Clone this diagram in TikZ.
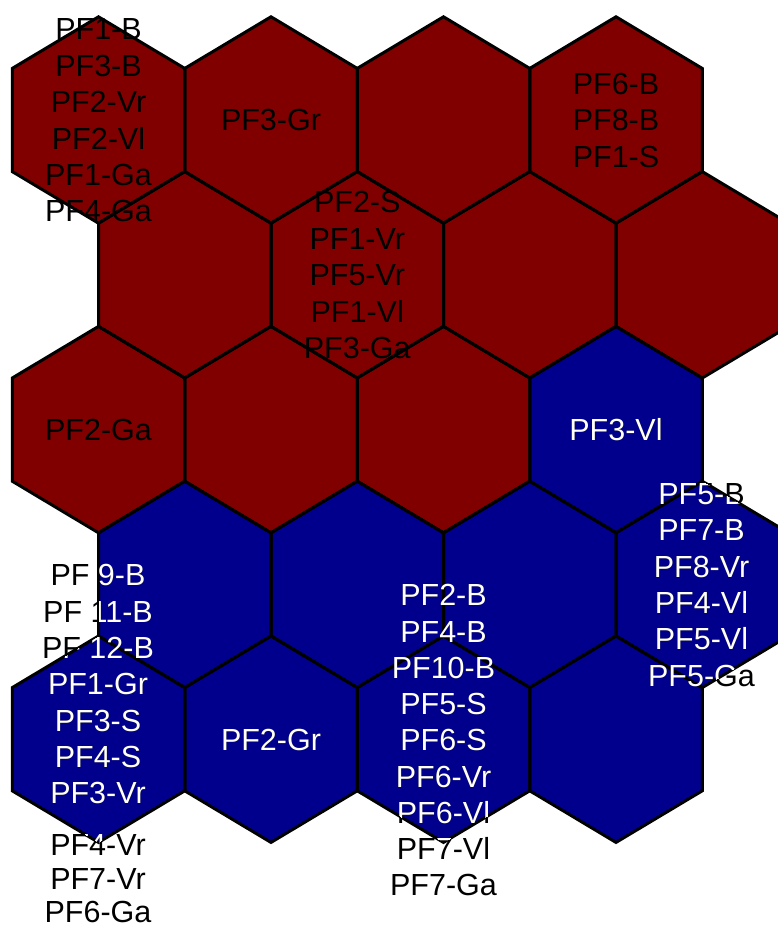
\documentclass[tikz,border=0pt]{standalone}
\usepackage{fontspec}
\setmainfont{Liberation Sans}
\definecolor{somred}{RGB}{128,0,0}
\definecolor{somblue}{RGB}{0,0,140}
\tikzset{
  lab/.style={font=\fontsize{30.5}{36}\selectfont, inner sep=0pt, anchor=base, text depth=0pt},
  hexborder/.style={draw=black, line width=3pt, line join=miter}
}
\newcommand\hexpath[2]{(#1,#2-103.2) -- (#1+86.25,#2-51.6) -- (#1+86.25,#2+51.6) -- (#1,#2+103.2) -- (#1-86.25,#2+51.6) -- (#1-86.25,#2-51.6) -- cycle}
\newcommand\somblock[6]{% prefix, colour, x, first y, spacing, list
  \foreach \t [count=\i] in {#6}
    \node[lab,text=#2] (#1\i) at (#3,{#4+#5*(\i-1)+10.9}) {\t};
}
\newcommand\somlabels[2]{%
  \somblock{#1a}{#2}{98.5}{29}{36.4}{PF1-B,PF3-B,PF2-Vr,PF2-Vl,PF1-Ga,PF4-Ga}
  \somblock{#1b}{#2}{271}{120}{36.4}{PF3-Gr}
  \somblock{#1c}{#2}{616}{83.6}{36.4}{PF6-B,PF8-B,PF1-S}
  \somblock{#1d}{#2}{357.25}{202}{36.4}{PF2-S,PF1-Vr,PF5-Vr,PF1-Vl,PF3-Ga}
  \somblock{#1e}{#2}{98.5}{429.6}{36.4}{PF2-Ga}
  \somblock{#1f}{#2}{616}{429.6}{36.4}{PF3-Vl}
  \somblock{#1g}{#2}{701.5}{493.4}{36.4}{PF5-B,PF7-B,PF8-Vr,PF4-Vl,PF5-Vl,PF5-Ga}
  \somblock{#1h}{#2}{98}{575}{36.33}{PF 9-B,PF 11-B,PF 12-B,PF1-Gr,PF3-S,PF4-S,PF3-Vr}
  \somblock{#1i}{#2}{98}{845}{33.5}{PF4-Vr,PF7-Vr,PF6-Ga}
  \somblock{#1j}{#2}{271}{739.2}{36.4}{PF2-Gr}
  \somblock{#1k}{#2}{443.5}{595}{36.25}{PF2-B,PF4-B,PF10-B,PF5-S,PF6-S,PF6-Vr,PF6-Vl,PF7-Vl,PF7-Ga}
}
\begin{document}
\begin{tikzpicture}[x=1pt,y=-1pt]
\useasboundingbox (0,0) rectangle (778,930);
\clip (0,0) rectangle (778,930);
% hexagon fills
\foreach \r in {0,...,4}{
  \foreach \c in {0,...,3}{
    \pgfmathsetmacro\cx{98.5+172.5*\c+86.25*mod(\r,2)}
    \pgfmathsetmacro\cy{120+154.8*\r}
    \pgfmathtruncatemacro\isblue{or(\r>2,and(\r==2,\c==3))}
    \ifnum\isblue=1 \def\hc{somblue}\else\def\hc{somred}\fi
    \path[fill=\hc] \hexpath{\cx}{\cy};
  }}
% hexagon borders
\foreach \r in {0,...,4}{
  \foreach \c in {0,...,3}{
    \pgfmathsetmacro\cx{98.5+172.5*\c+86.25*mod(\r,2)}
    \pgfmathsetmacro\cy{120+154.8*\r}
    \path[hexborder] \hexpath{\cx}{\cy};
  }}
% labels: black everywhere
\somlabels{b}{black}
% labels: white over the blue units
\begin{scope}
  \clip \hexpath{616}{429.6}
        \hexpath{184.75}{584.4} \hexpath{357.25}{584.4} \hexpath{529.75}{584.4} \hexpath{702.25}{584.4}
        \hexpath{98.5}{739.2} \hexpath{271}{739.2} \hexpath{443.5}{739.2} \hexpath{616}{739.2};
  \somlabels{w}{white}
\end{scope}
\end{tikzpicture}
\end{document}
